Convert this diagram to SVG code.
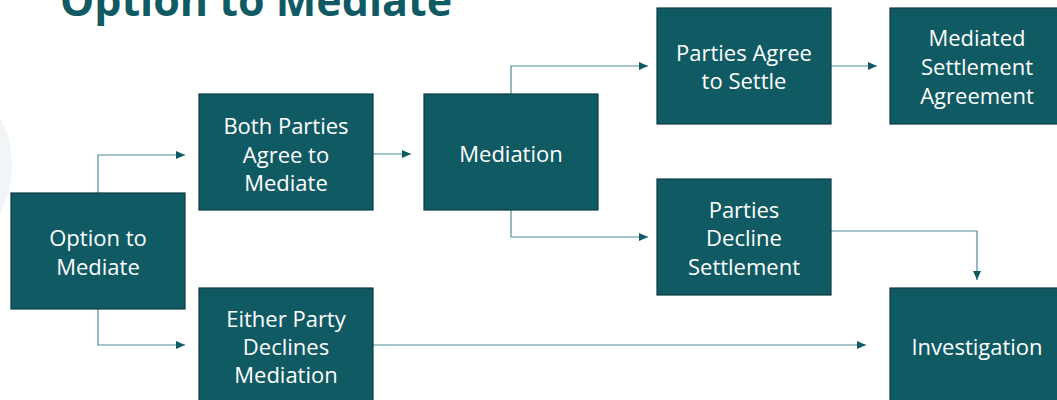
<svg xmlns="http://www.w3.org/2000/svg" width="1057" height="400" viewBox="0 0 1057 400">
<style>
.box{fill:#105a63;stroke:#0b3c42;stroke-width:1.2}
.t{font-family:"Open Sans","DejaVu Sans",sans-serif;font-size:22px;fill:#ffffff;text-anchor:middle}
.c{fill:none;stroke:#4f8e97;stroke-width:1.2}
.title{font-family:"Open Sans","DejaVu Sans",sans-serif;font-size:43px;font-weight:bold;fill:#105a63}
</style>
<defs>
<marker id="ah" markerWidth="10" markerHeight="8" refX="9" refY="4" orient="auto" markerUnits="userSpaceOnUse">
<path d="M0,0 L9,4 L0,8 Z" fill="#105a63"/>
</marker>
</defs>
<rect width="1057" height="400" fill="#ffffff"/>
<ellipse cx="-30" cy="165" rx="42" ry="68" fill="#f1f5f7"/>
<text class="title" x="60" y="16">Option to Mediate</text>
<g id="connectors">
<path class="c" d="M98,193 V155 H185" marker-end="url(#ah)"/>
<path class="c" d="M98,309 V345 H185" marker-end="url(#ah)"/>
<path class="c" d="M373,154 H411" marker-end="url(#ah)"/>
<path class="c" d="M511,94 V66 H648" marker-end="url(#ah)"/>
<path class="c" d="M511,210 V237 H648" marker-end="url(#ah)"/>
<path class="c" d="M831,66 H877" marker-end="url(#ah)"/>
<path class="c" d="M831,231 H977 V280" marker-end="url(#ah)"/>
<path class="c" d="M373,345 H866" marker-end="url(#ah)"/>
</g>
<g id="option">
<rect class="box" x="11" y="193" width="174" height="116"/>
<text class="t" x="98" y="246">Option to</text>
<text class="t" x="98" y="275">Mediate</text>
</g>
<g id="both">
<rect class="box" x="199" y="94" width="174" height="116"/>
<text class="t" x="286" y="134">Both Parties</text>
<text class="t" x="286" y="163">Agree to</text>
<text class="t" x="286" y="191">Mediate</text>
</g>
<g id="mediation">
<rect class="box" x="424" y="94" width="174" height="116"/>
<text class="t" x="511" y="162">Mediation</text>
</g>
<g id="agree">
<rect class="box" x="657" y="8" width="174" height="116"/>
<text class="t" x="744" y="61">Parties Agree</text>
<text class="t" x="744" y="89">to Settle</text>
</g>
<g id="msa">
<rect class="box" x="890" y="8" width="180" height="116"/>
<text class="t" x="977" y="46">Mediated</text>
<text class="t" x="977" y="75">Settlement</text>
<text class="t" x="977" y="104">Agreement</text>
</g>
<g id="decline">
<rect class="box" x="657" y="179" width="174" height="116"/>
<text class="t" x="744" y="218">Parties</text>
<text class="t" x="744" y="246">Decline</text>
<text class="t" x="744" y="275">Settlement</text>
</g>
<g id="either">
<rect class="box" x="199" y="288" width="174" height="120"/>
<text class="t" x="286" y="327">Either Party</text>
<text class="t" x="286" y="355">Declines</text>
<text class="t" x="286" y="383">Mediation</text>
</g>
<g id="investigation">
<rect class="box" x="890" y="288" width="180" height="120"/>
<text class="t" x="977" y="355">Investigation</text>
</g>
</svg>
